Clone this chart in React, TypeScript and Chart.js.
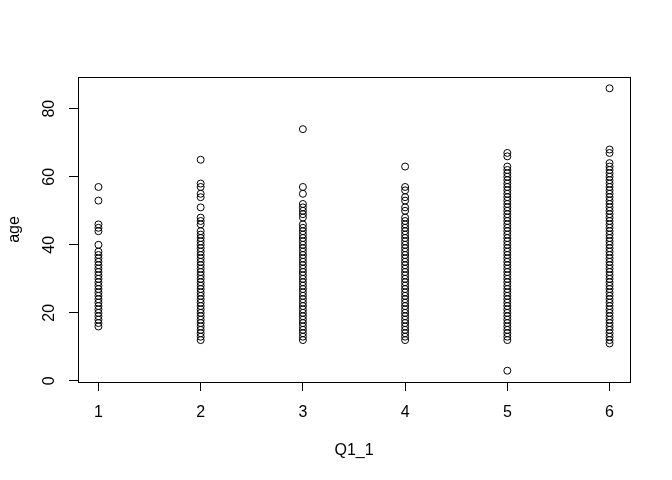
import React, { useEffect, useRef } from "react";
import { Chart, registerables } from "chart.js";

Chart.register(...registerables);

const range = (lo: number, hi: number): number[] => {
  const out: number[] = [];
  for (let v = hi; v >= lo; v--) out.push(v);
  return out;
};

// Q1_1 response levels
const q1Levels = [1, 2, 3, 4, 5, 6];
const agesLevel1 = [57, 53, 46, 45, 44, 40, ...range(16, 38)];
const agesLevel2 = [65, 58, 57, 55, 54, 51, 48, 47, 46, ...range(12, 44)];
const agesLevel3 = [74, 57, 55, 52, 51, 50, 49, 48, ...range(12, 46)];
const agesLevel4 = [63, 57, 56, 54, 53, 51, 50, ...range(12, 48)];
const agesLevel5 = [67, 66, ...range(12, 63), 3];
const agesLevel6 = [86, 68, 67, ...range(11, 64)];
const agesByLevel = [agesLevel1, agesLevel2, agesLevel3, agesLevel4, agesLevel5, agesLevel6];

const xTicks = [1, 2, 3, 4, 5, 6];
const yTicks = [0, 20, 40, 60, 80];
const xLabel = "Q1_1";
const yLabel = "age";

const FONT = "'Liberation Sans', Arial, sans-serif";

export default function App() {
  const ref = useRef<HTMLCanvasElement | null>(null);
  useEffect(() => {
    if (!ref.current) return;
    const points: { x: number; y: number }[] = [];
    q1Levels.forEach((lv, i) => {
      agesByLevel[i].forEach((a) => points.push({ x: lv, y: a }));
    });

    const framePlugin = {
      id: "rframe",
      afterDraw(chart: any) {
        const { ctx, chartArea } = chart;
        const ys = chart.scales.y;
        ctx.save();
        ctx.strokeStyle = "#000";
        ctx.lineWidth = 1;
        ctx.strokeRect(
          Math.round(chartArea.left) + 0.5,
          Math.round(chartArea.top) + 0.5,
          Math.round(chartArea.right - chartArea.left),
          Math.round(chartArea.bottom - chartArea.top)
        );
        ctx.fillStyle = "#000";
        ctx.font = `16px ${FONT}`;
        ctx.textAlign = "center";
        ctx.textBaseline = "middle";
        yTicks.forEach((t) => {
          const py = ys.getPixelForValue(t);
          ctx.save();
          ctx.translate(50, py);
          ctx.rotate(-Math.PI / 2);
          ctx.fillText(String(t), 0, 0);
          ctx.restore();
        });
        ctx.save();
        ctx.translate(15, (chartArea.top + chartArea.bottom) / 2);
        ctx.rotate(-Math.PI / 2);
        ctx.fillText(yLabel, 0, 0);
        ctx.restore();
        ctx.fillText(xLabel, (chartArea.left + chartArea.right) / 2, 451);
        ctx.restore();
      },
    };

    const chart = new Chart(ref.current, {
      type: "scatter",
      data: {
        datasets: [
          {
            data: points,
            pointStyle: "circle",
            pointRadius: 3.5,
            pointBorderWidth: 1,
            pointBorderColor: "#000",
            pointBackgroundColor: "rgba(0,0,0,0)",
            pointHoverRadius: 3.5,
          },
        ],
      },
      options: {
        responsive: false,
        animation: false,
        events: [],
        layout: { padding: { top: 77, right: 42, left: 0, bottom: 0 } },
        plugins: { legend: { display: false }, tooltip: { enabled: false } },
        scales: {
          x: {
            type: "linear",
            min: 0.8,
            max: 6.2,
            afterBuildTicks: (s: any) => {
              s.ticks = xTicks.map((v) => ({ value: v }));
            },
            afterFit: (s: any) => {
              s.height = 98;
            },
            grid: {
              drawOnChartArea: false,
              drawTicks: true,
              tickLength: 9,
              tickColor: "#000",
              color: "#000",
            },
            border: { display: false },
            ticks: {
              color: "#000",
              font: { family: FONT, size: 16 },
              padding: 12,
              maxRotation: 0,
              minRotation: 0,
              callback: (v: any) => String(v),
            },
          },
          y: {
            type: "linear",
            min: -0.32,
            max: 89.32,
            afterBuildTicks: (s: any) => {
              s.ticks = yTicks.map((v) => ({ value: v }));
            },
            afterFit: (s: any) => {
              s.width = 78;
            },
            grid: {
              drawOnChartArea: false,
              drawTicks: true,
              tickLength: 9,
              tickColor: "#000",
              color: "#000",
            },
            border: { display: false },
            ticks: { display: false },
          },
        },
      },
      plugins: [framePlugin],
    });
    return () => chart.destroy();
  }, []);

  return (
    <div style={{ position: "fixed", left: 0, top: 0, width: 672, height: 480, background: "#fff" }}>
      <canvas ref={ref} width={672} height={480} style={{ width: 672, height: 480 }} />
    </div>
  );
}
